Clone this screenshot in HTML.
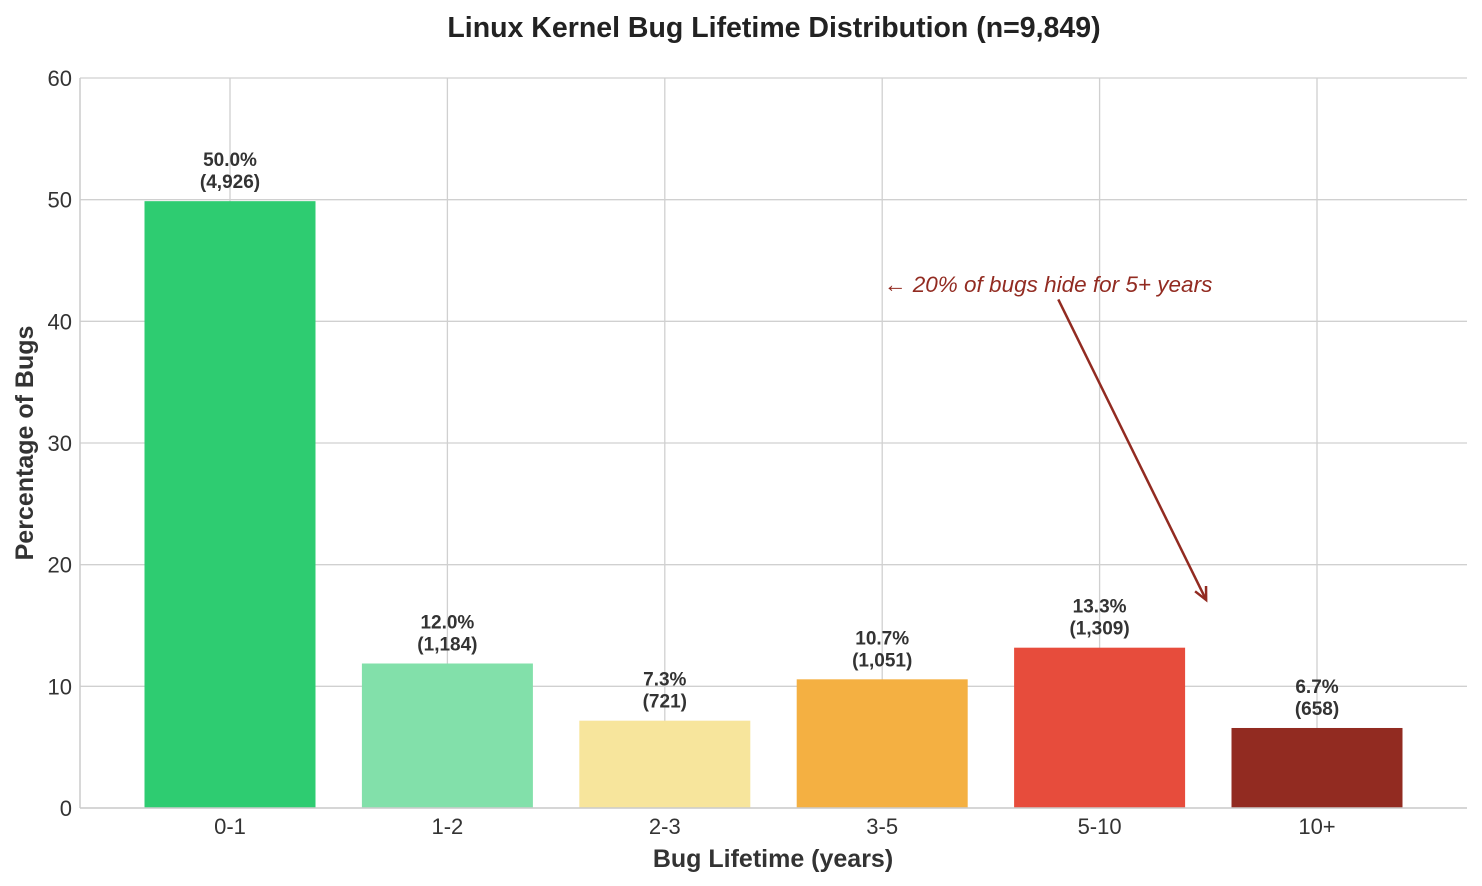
<!DOCTYPE html>
<html><head><meta charset="utf-8">
<style>
html,body{margin:0;padding:0;background:#fff;}
svg{display:block;font-family:"Liberation Sans",sans-serif;}
</style></head>
<body>
<svg id="chart" width="1482" height="886" viewBox="0 0 1482 886">
<text x="774" y="37" text-anchor="middle" font-size="28.5" font-weight="bold" fill="#222">Linux Kernel Bug Lifetime Distribution (n=9,849)</text>
<g id="grid"></g>
<g id="bars"></g>
<g id="labels"></g>
<line x1="80" y1="78" x2="80" y2="808" stroke="#ccc" stroke-width="1.5"/>
<line x1="80" y1="808" x2="1467" y2="808" stroke="#ccc" stroke-width="1.5"/>
<text x="773" y="867" text-anchor="middle" font-size="25" font-weight="bold" fill="#333">Bug Lifetime (years)</text>
<text transform="translate(33,443) rotate(-90)" text-anchor="middle" font-size="25" font-weight="bold" fill="#333">Percentage of Bugs</text>
<g id="annot"></g>
</svg>
<script>
const categories = ["0-1","1-2","2-3","3-5","5-10","10+"];
const percents = [50.0, 12.0, 7.3, 10.7, 13.3, 6.7];
const counts = ["4,926","1,184","721","1,051","1,309","658"];
const colors = ["#2ecc71","#82e0aa","#f7e59c","#f4b042","#e74c3c","#922b21"];
const yTicks = [0,10,20,30,40,50,60];
const annotText = "← 20% of bugs hide for 5+ years";
const annotFrom = [3.81, 41.8];
const annotTo = [4.49, 17.1];

const NS="http://www.w3.org/2000/svg";
const xs = i => 230 + 217.4*i;
const ys = v => 808 - v*(730/60);
function mk(tag, attrs, parent, text){
  const e=document.createElementNS(NS,tag);
  for(const k in attrs) e.setAttribute(k,attrs[k]);
  if(text!==undefined) e.textContent=text;
  document.getElementById(parent).appendChild(e);
  return e;
}
yTicks.forEach(t=>{
  const l=mk("line",{x1:80,x2:1467,y1:ys(t),y2:ys(t),stroke:"#d0d0d0","stroke-width":1.3},"grid");
  
  
  const tx=mk("text",{x:72,y:ys(t)+8,"text-anchor":"end","font-size":22,fill:"#333"},"grid",String(t));
  
  
});
categories.forEach((c,i)=>{
  const l=mk("line",{x1:xs(i),x2:xs(i),y1:78,y2:808,stroke:"#d0d0d0","stroke-width":1.3},"grid");
  
  
  const tx=mk("text",{x:xs(i),y:834,"text-anchor":"middle","font-size":22,fill:"#333"},"grid",c);
  
  
  const w=171, top=ys(percents[i])+1.5;
  const r=mk("rect",{x:xs(i)-w/2,y:top,width:w,height:808-top,fill:colors[i]},"bars");
  
  
  const t1=mk("text",{x:xs(i),y:top-35,"text-anchor":"middle","font-size":19,"font-weight":"bold",fill:"#333"},"labels",percents[i].toFixed(1)+"%");
  
  
  const t2=mk("text",{x:xs(i),y:top-13,"text-anchor":"middle","font-size":19,"font-weight":"bold",fill:"#333"},"labels","("+counts[i]+")");
  
  
});
const at=mk("text",{x:884,y:292,"font-size":22.5,"font-style":"italic",fill:"#922b21"},"annot",annotText);


const x1=xs(annotFrom[0]),y1=ys(annotFrom[1]),x2=xs(annotTo[0]),y2=ys(annotTo[1]);
const al=mk("line",{x1:x1,y1:y1,x2:x2,y2:y2,stroke:"#922b21","stroke-width":2.5},"annot");


const ang=Math.atan2(y2-y1,x2-x1), L=14, s=0.45;
const p=[[x2,y2],[x2-L*Math.cos(ang-s),y2-L*Math.sin(ang-s)],[x2-L*Math.cos(ang+s),y2-L*Math.sin(ang+s)]];
const ah=mk("polyline",{points:p[1].join(",")+" "+p[0].join(",")+" "+p[2].join(","),fill:"none",stroke:"#922b21","stroke-width":2.5},"annot");


</script>
</body></html>
